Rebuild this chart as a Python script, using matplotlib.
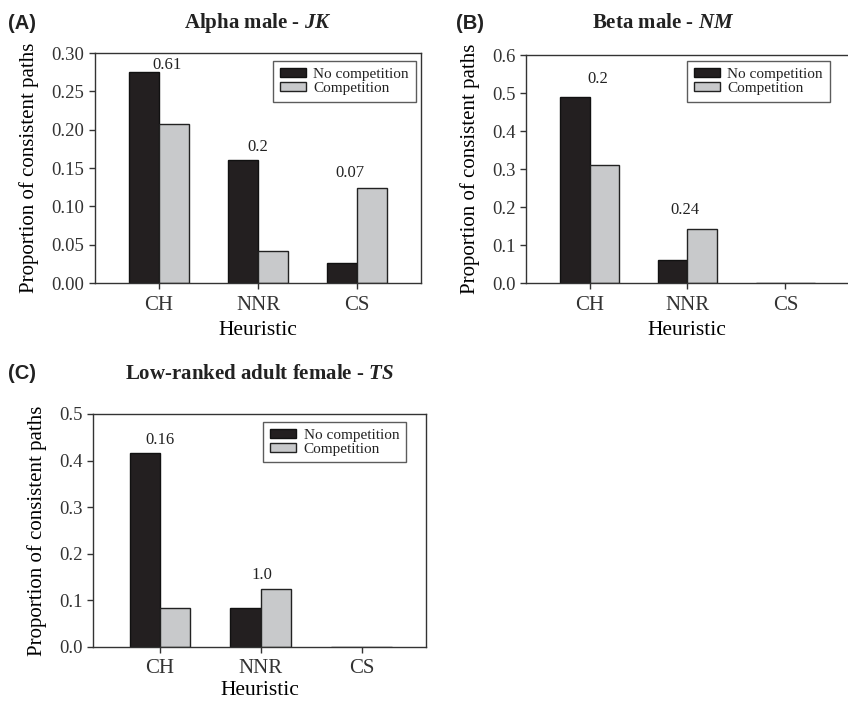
import numpy as np
import matplotlib
matplotlib.use("Agg")
import matplotlib.pyplot as plt

plt.rcParams.update({
    "font.family": "Liberation Serif",
    "mathtext.fontset": "custom",
    "mathtext.rm": "Liberation Serif:bold",
    "mathtext.it": "Liberation Serif:italic:bold",
    "axes.linewidth": 1.0,
    "axes.edgecolor": "#333333",
    "xtick.color": "#333333",
    "ytick.color": "#333333",
    "text.color": "#222222",
})

# Donnees
heuristics = ["CH", "NNR", "CS"]
series_names = ["No competition", "Competition"]

jk_nocomp = [0.276, 0.161, 0.0265]
jk_comp   = [0.208, 0.042, 0.124]
jk_notes  = ["0.61", "0.2", "0.07"]
jk_note_y = [0.284, 0.177, 0.143]
jk_note_dx = [0.08, 0.0, -0.07]

nm_nocomp = [0.490, 0.060, 0.0]
nm_comp   = [0.312, 0.143, 0.0]
nm_notes  = ["0.2", "0.24"]
nm_note_y = [0.537, 0.193]
nm_note_dx = [0.08, -0.03]

ts_nocomp = [0.417, 0.083, 0.0]
ts_comp   = [0.083, 0.125, 0.0]
ts_notes  = ["0.16", "1.0"]
ts_note_y = [0.444, 0.154]
ts_note_dx = [0.0, 0.01]

C_BLACK = "#231f20"
C_GRAY = "#c8c9cb"

fig = plt.figure(figsize=(8.48, 7.03), dpi=100)


def panel(rect, nocomp, comp, notes, note_y, note_dx, ylim, yticks, yfmt,
          title, letter, letter_xy, title_y, leg_anchor, xlim, hide_right=False,
          xlabelpad=5):
    ax = fig.add_axes(rect)
    x = np.arange(len(heuristics))
    w = 0.3
    ax.bar(x - w / 2, nocomp, width=w, color=C_BLACK, edgecolor="#111111", lw=1.0,
           label=series_names[0])
    ax.bar(x + w / 2, comp, width=w, color=C_GRAY, edgecolor="#222222", lw=1.0,
           label=series_names[1])
    for i, (t, yy) in enumerate(zip(notes, note_y)):
        ax.text(i + note_dx[i], yy, t, ha="center", va="center", fontsize=12)
    ax.set_xlim(*xlim)
    ax.set_ylim(*ylim)
    ax.set_yticks(yticks)
    ax.set_yticklabels([yfmt.format(v) for v in yticks])
    ax.set_xticks(x)
    ax.set_xticklabels(heuristics)
    ax.tick_params(axis="both", direction="out", length=4, width=1)
    ax.tick_params(axis="y", labelsize=13.5)
    ax.tick_params(axis="x", labelsize=15, pad=5)
    ax.set_xlabel("Heuristic", fontsize=15.5, labelpad=xlabelpad)
    ax.set_ylabel("Proportion of consistent paths", fontsize=15, labelpad=9)
    if hide_right:
        ax.spines["right"].set_visible(False)
    leg = ax.legend(loc="upper right", bbox_to_anchor=leg_anchor, fontsize=11,
                    frameon=True, fancybox=False, handlelength=1.7, handleheight=0.55,
                    labelspacing=0.05, borderpad=0.45, handletextpad=0.5,
                    borderaxespad=0)
    leg.get_frame().set_edgecolor("#333333")
    leg.get_frame().set_linewidth(1.0)
    cx = rect[0] + rect[2] / 2 if not hide_right else rect[0] + 0.4 * 0.3797 + 0.01
    fig.text(cx, title_y, title, ha="center", va="center", fontsize=15,
             fontweight="bold")
    fig.text(letter_xy[0], letter_xy[1], letter, ha="left", va="center",
             fontsize=14.5, fontweight="bold", family="Liberation Sans")
    return ax


panel([0.112, 0.5974, 0.384, 0.327], jk_nocomp, jk_comp, jk_notes, jk_note_y, jk_note_dx,
      (0, 0.30), [0, 0.05, 0.10, 0.15, 0.20, 0.25, 0.30], "{:.2f}",
      r"Alpha male - $\mathit{JK}$", "(A)", (0.010, 0.967), 0.967,
      (0.985, 0.965), (-0.646, 2.64))

panel([0.6203, 0.5974, 0.3797, 0.324], nm_nocomp, nm_comp, nm_notes, nm_note_y, nm_note_dx,
      (0, 0.6), [0, 0.1, 0.2, 0.3, 0.4, 0.5, 0.6], "{:.1f}",
      r"Beta male - $\mathit{NM}$", "(B)", (0.538, 0.967), 0.967,
      (0.944, 0.974), (-0.65, 2.64), hide_right=True)

panel([0.1097, 0.0797, 0.3927, 0.3314], ts_nocomp, ts_comp, ts_notes, ts_note_y, ts_note_dx,
      (0, 0.5), [0, 0.1, 0.2, 0.3, 0.4, 0.5], "{:.1f}",
      r"Low-ranked adult female - $\mathit{TS}$", "(C)", (0.010, 0.468), 0.468,
      (0.94, 0.966), (-0.663, 2.64), xlabelpad=2)

fig.savefig("out.png", dpi=100)
